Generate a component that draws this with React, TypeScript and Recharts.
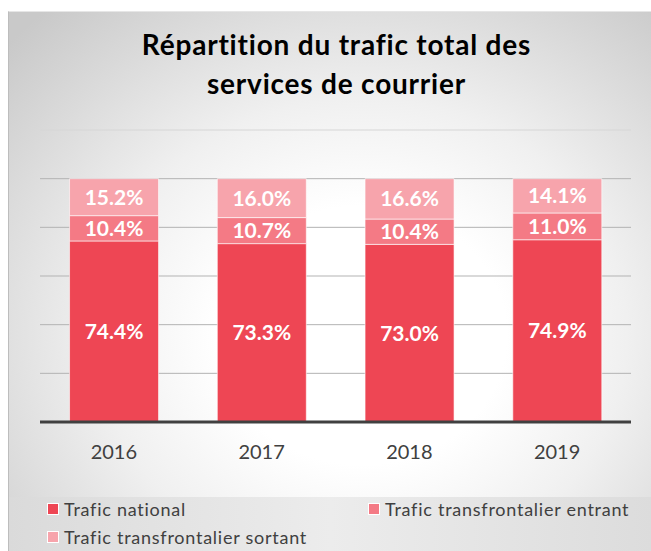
import { BarChart, Bar, XAxis, YAxis, CartesianGrid, LabelList } from 'recharts';

const years = ['2016', '2017', '2018', '2019'];
const national = [74.4, 73.3, 73.0, 74.9];
const entrant = [10.4, 10.7, 10.4, 11.0];
const sortant = [15.2, 16.0, 16.6, 14.1];
const yTicks = [0, 20, 40, 60, 80, 100, 120];

const C_NATIONAL = '#EE4654';
const C_ENTRANT = '#F47A85';
const C_SORTANT = '#F7A4AC';
const TEXT = '#404040';
const FONT = 'Lato, "Open Sans", sans-serif';

const data = years.map((year, i) => ({
  year,
  national: national[i],
  entrant: entrant[i],
  sortant: sortant[i],
}));

const legendItems = [
  { name: 'Trafic national', color: C_NATIONAL, left: 38, top: 486 },
  { name: 'Trafic transfrontalier entrant', color: C_ENTRANT, left: 359, top: 486 },
  { name: 'Trafic transfrontalier sortant', color: C_SORTANT, left: 38, top: 514 },
];

const fmt = (v: any) => `${Number(v).toFixed(1)}%`;

const labelStyle = { fill: '#ffffff', fontSize: 21, fontWeight: 700, fontFamily: FONT };

// top gridline is drawn lighter than the others in the original
const gridLine = (p: any) => (
  <line
    key={`g-${p.index}`}
    x1={p.x1}
    x2={p.x2}
    y1={p.y1}
    y2={p.y2}
    stroke={p.y1 < 125 ? '#d6d6d6' : '#b3b3b3'}
    strokeWidth={1}
  />
);

export default function App() {
  return (
    <>
      <style>{`body{margin:0;overflow:hidden}`}</style>
      <div
        style={{
          position: 'absolute',
          left: 8,
          top: 11,
          width: 643,
          height: 540,
          fontFamily: FONT,
          borderLeft: '1px solid #bdbdbd',
          borderTop: '1px solid #e6e6e6',
          boxSizing: 'border-box',
          background:
            'radial-gradient(ellipse 75% 80% at 55% 60%, #ffffff 30%, #f0f0f0 55%, #c9c9c9 100%)',
          overflow: 'hidden',
        }}
      >
        <div
          style={{
            position: 'absolute',
            left: 0,
            top: 13,
            width: 655,
            textAlign: 'center',
            fontSize: 28,
            lineHeight: '39px',
            letterSpacing: 0.8,
            fontWeight: 700,
            color: '#000',
          }}
        >
          Répartition du trafic total des
          <br />
          services de courrier
        </div>

        <div style={{ position: 'absolute', left: -1, top: -1 }}>
          <BarChart
            width={643}
            height={485}
            data={data}
            margin={{ top: 119, right: 20, bottom: 24, left: 32 }}
            barCategoryGap="20%"
          >
            <CartesianGrid vertical={false} horizontal={gridLine} />
            <YAxis hide domain={[0, 120]} ticks={yTicks} />
            <XAxis
              dataKey="year"
              height={50}
              tickLine={false}
              tickSize={0}
              tickMargin={23}
              axisLine={{ stroke: '#404040', strokeWidth: 3 }}
              tick={{ fill: TEXT, fontSize: 20, fontFamily: FONT }}
            />
            <Bar dataKey="national" stackId="a" fill={C_NATIONAL} stroke="#fff" strokeOpacity={0.6} isAnimationActive={false}>
              <LabelList dataKey="national" position="center" formatter={fmt} style={labelStyle} />
            </Bar>
            <Bar dataKey="entrant" stackId="a" fill={C_ENTRANT} stroke="#fff" strokeOpacity={0.6} isAnimationActive={false}>
              <LabelList dataKey="entrant" position="center" formatter={fmt} style={labelStyle} />
            </Bar>
            <Bar dataKey="sortant" stackId="a" fill={C_SORTANT} stroke="#fff" strokeOpacity={0.6} isAnimationActive={false}>
              <LabelList dataKey="sortant" position="center" formatter={fmt} style={labelStyle} />
            </Bar>
          </BarChart>
        </div>

        <div
          style={{
            position: 'absolute',
            left: 0,
            top: 485,
            width: 643,
            height: 55,
            background: 'linear-gradient(90deg, #dadada 0%, #ececec 50%, #dcdcdc 100%)',
          }}
        />
        {legendItems.map((it) => (
          <div
            key={it.name}
            style={{
              position: 'absolute',
              left: it.left,
              top: it.top,
              display: 'flex',
              alignItems: 'center',
              fontSize: 18,
              letterSpacing: 0.75,
              color: TEXT,
              whiteSpace: 'nowrap',
            }}
          >
            <span
              style={{
                display: 'inline-block',
                width: 10,
                height: 10,
                background: it.color,
                border: '1px solid #fff',
                marginRight: 5,
              }}
            />
            {it.name}
          </div>
        ))}
      </div>
    </>
  );
}
